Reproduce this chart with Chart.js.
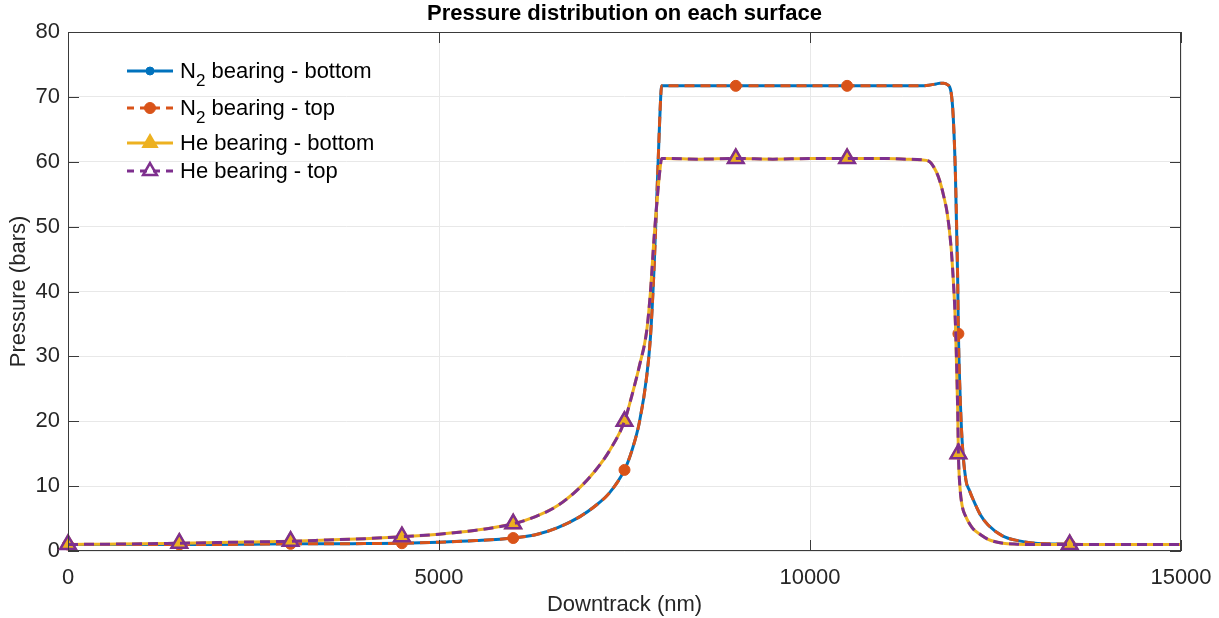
<!DOCTYPE html>
<html lang="en">
<head>
<meta charset="UTF-8">
<title>Pressure distribution on each surface</title>
<script src="https://cdn.jsdelivr.net/npm/chart.js"></script>
<style>
    html, body { margin: 0; padding: 0; background: #fff; }
</style>
</head>
<body>
<canvas id="grafico" width="1219" height="618"></canvas>
<script>
    // Downtrack positions (nm)
    const downtrack = [0, 500, 1000, 1500, 2000, 2500, 3000, 3500, 4000, 4500,
        5000, 5500, 6000, 6300, 6600, 6900, 7100, 7300, 7500, 7600,
        7700, 7800, 7850, 7900, 7950, 7980, 8000, 8050, 8500, 9000,
        9500, 10000, 10500, 11000, 11300, 11500, 11600, 11700, 11750, 11800,
        11850, 11900, 11930, 11960, 11990, 12000, 12020, 12050, 12100, 12150,
        12200, 12300, 12400, 12600, 12800, 13000, 13500, 14000, 14500, 15000];

    // Pressure (bars)
    const n2Bottom = [1.0, 1.0, 1.0, 1.0, 1.0, 1.05, 1.1, 1.1, 1.15, 1.2,
        1.35, 1.6, 2.0, 2.5, 3.6, 5.3, 6.9, 9.0, 12.5, 15.5,
        19.8, 27, 33, 44, 59, 68, 71.7, 71.7, 71.7, 71.7,
        71.7, 71.7, 71.7, 71.7, 71.7, 71.7, 71.8, 72.0, 72.1, 72.1,
        71.9, 70.8, 67, 58, 42, 33.5, 25, 17, 11, 9.3,
        7.9, 5.5, 4.0, 2.3, 1.6, 1.25, 1.05, 1.0, 1.0, 1.0];
    const n2Top = [1.0, 1.0, 1.0, 1.0, 1.0, 1.05, 1.1, 1.1, 1.15, 1.2,
        1.35, 1.6, 2.0, 2.5, 3.6, 5.3, 6.9, 9.0, 12.5, 15.5,
        19.8, 27, 33, 44, 59, 68, 71.7, 71.7, 71.7, 71.7,
        71.7, 71.7, 71.7, 71.7, 71.7, 71.7, 71.8, 72.0, 72.1, 72.1,
        71.9, 70.8, 67, 58, 42, 33.5, 25, 17, 11, 9.3,
        7.9, 5.5, 4.0, 2.3, 1.6, 1.25, 1.05, 1.0, 1.0, 1.0];
    const heBottom = [1.0, 1.05, 1.1, 1.2, 1.3, 1.4, 1.5, 1.7, 1.9, 2.2,
        2.6, 3.2, 4.2, 5.3, 7.0, 9.8, 12.3, 15.5, 20, 24,
        28.5, 34, 40, 48.5, 55.5, 59, 60.5, 60.5, 60.4, 60.5,
        60.4, 60.5, 60.5, 60.5, 60.4, 60.3, 60.1, 58.5, 57, 54.8,
        52, 47, 42, 35, 22, 15, 10, 7, 5.3, 4.2,
        3.4, 2.5, 1.8, 1.2, 1.05, 1.0, 1.0, 1.0, 1.0, 1.0];
    const heTop = [1.0, 1.05, 1.1, 1.2, 1.3, 1.4, 1.5, 1.7, 1.9, 2.2,
        2.6, 3.2, 4.2, 5.3, 7.0, 9.8, 12.3, 15.5, 20, 24,
        28.5, 34, 40, 48.5, 55.5, 59, 60.5, 60.5, 60.4, 60.5,
        60.4, 60.5, 60.5, 60.5, 60.4, 60.3, 60.1, 58.5, 57, 54.8,
        52, 47, 42, 35, 22, 15, 10, 7, 5.3, 4.2,
        3.4, 2.5, 1.8, 1.2, 1.05, 1.0, 1.0, 1.0, 1.0, 1.0];

    // Positions where markers are shown
    const markerX = [0, 1500, 3000, 4500, 6000, 7500, 9000, 10500, 12000, 13500];

    const legendLabels = ['N_2 bearing - bottom', 'N_2 bearing - top', 'He bearing - bottom', 'He bearing - top'];
    const chartTitle = 'Pressure distribution on each surface';

    const fuente = '"Liberation Sans", Arial, Helvetica, sans-serif';
    const toPoints = ys => downtrack.map((x, i) => ({ x: x, y: ys[i] }));
    const radioMarcador = r => ctx => markerX.includes(downtrack[ctx.dataIndex]) ? r : 0;

    const series = [
        { label: legendLabels[0], data: n2Bottom, color: '#0072BD', dash: [], style: 'circle', r: 4, fill: '#0072BD', bw: 1, order: 4 },
        { label: legendLabels[1], data: n2Top, color: '#D95319', dash: [10, 6], style: 'circle', r: 5.5, fill: '#D95319', bw: 1, order: 3 },
        { label: legendLabels[2], data: heBottom, color: '#EDB120', dash: [], style: 'triangle', r: 9, fill: '#EDB120', bw: 2, order: 2 },
        { label: legendLabels[3], data: heTop, color: '#7E2F8E', dash: [10, 6], style: 'triangle', r: 9, fill: 'rgba(0,0,0,0)', bw: 2.5, order: 1 }
    ];

    // Box with inward ticks and the title centred on the axes
    const cajaPlugin = {
        id: 'caja',
        afterDatasetsDraw(chart) {
            const { ctx, chartArea: a, scales: { x, y } } = chart;
            ctx.save();
            ctx.strokeStyle = '#3a3a3a';
            ctx.lineWidth = 1;
            ctx.setLineDash([]);
            ctx.strokeRect(a.left + 0.5, a.top + 0.5, a.right - a.left - 1, a.bottom - a.top - 1);
            ctx.beginPath();
            y.ticks.forEach(t => {
                const py = Math.round(y.getPixelForValue(t.value)) + 0.5;
                ctx.moveTo(a.left, py); ctx.lineTo(a.left + 11, py);
                ctx.moveTo(a.right, py); ctx.lineTo(a.right - 11, py);
            });
            x.ticks.forEach(t => {
                const px = Math.round(x.getPixelForValue(t.value)) + 0.5;
                ctx.moveTo(px, a.bottom); ctx.lineTo(px, a.bottom - 11);
                ctx.moveTo(px, a.top); ctx.lineTo(px, a.top + 11);
            });
            ctx.stroke();

            ctx.fillStyle = '#000';
            ctx.font = 'bold 22px ' + fuente;
            ctx.textAlign = 'center';
            ctx.textBaseline = 'middle';
            ctx.fillText(chartTitle, (a.left + a.right) / 2, 14);
            ctx.restore();
        }
    };

    // Legend drawn inside the plot (no box), with N2 subscript
    const leyendaPlugin = {
        id: 'leyenda',
        afterDraw(chart) {
            const ctx = chart.ctx;
            const baselines = [78, 115, 150, 178];
            ctx.save();
            series.forEach((s, i) => {
                const yl = baselines[i] - 7;
                ctx.strokeStyle = s.color;
                ctx.lineWidth = 3;
                ctx.setLineDash(s.dash.length ? [7, 6] : []);
                ctx.beginPath();
                ctx.moveTo(127, yl); ctx.lineTo(173, yl);
                ctx.stroke();
                ctx.setLineDash([]);
                ctx.fillStyle = s.fill;
                ctx.lineWidth = s.bw;
                Chart.helpers.drawPoint(ctx, { pointStyle: s.style, radius: s.style === 'triangle' ? 8 : s.r, rotation: 0, borderWidth: s.bw }, 150, yl);

                ctx.fillStyle = '#000';
                ctx.textBaseline = 'alphabetic';
                ctx.textAlign = 'left';
                ctx.font = '22px ' + fuente;
                let xt = 180;
                const partes = s.label.split('_');
                if (partes.length > 1) {
                    ctx.fillText(partes[0], xt, baselines[i]);
                    xt += ctx.measureText(partes[0]).width;
                    ctx.font = '17px ' + fuente;
                    ctx.fillText(partes[1][0], xt, baselines[i] + 8);
                    xt += ctx.measureText(partes[1][0]).width;
                    ctx.font = '22px ' + fuente;
                    ctx.fillText(partes[1].slice(1), xt, baselines[i]);
                } else {
                    ctx.fillText(s.label, xt, baselines[i]);
                }
            });
            ctx.restore();
        }
    };

    const ctx = document.getElementById('grafico').getContext('2d');
    const chart = new Chart(ctx, {
        type: 'line',
        data: {
            datasets: series.map(s => ({
                label: s.label,
                data: toPoints(s.data),
                borderColor: s.color,
                borderWidth: 3,
                borderDash: s.dash,
                cubicInterpolationMode: 'monotone',
                fill: false,
                clip: false,
                order: s.order,
                pointStyle: s.style,
                pointRadius: radioMarcador(s.r),
                pointBackgroundColor: s.fill,
                pointBorderColor: s.color,
                pointBorderWidth: s.bw,
                pointHoverRadius: 0
            }))
        },
        options: {
            responsive: false,
            animation: false,
            devicePixelRatio: 1,
            layout: { padding: { left: 0, right: 38, top: 32, bottom: 0 } },
            plugins: {
                legend: { display: false },
                tooltip: { enabled: false },
                title: { display: false }
            },
            scales: {
                x: {
                    type: 'linear',
                    min: 0, max: 15000,
                    ticks: {
                        stepSize: 5000, color: '#262626', font: { family: fuente, size: 22 }, padding: 14, maxRotation: 0,
                        callback: v => String(v)
                    },
                    grid: { color: '#e8e8e8', drawTicks: false },
                    border: { display: false },
                    title: { display: true, text: 'Downtrack (nm)', color: '#262626', font: { family: fuente, size: 22 }, padding: { top: 0, bottom: 0 } },
                    afterFit: s => { s.height = 67; s.paddingLeft = 0; s.paddingRight = 0; }
                },
                y: {
                    min: 0, max: 80,
                    ticks: { stepSize: 10, color: '#262626', font: { family: fuente, size: 22 }, padding: 8 },
                    grid: { color: '#e8e8e8', drawTicks: false },
                    border: { display: false },
                    title: { display: true, text: 'Pressure (bars)', color: '#262626', font: { family: fuente, size: 22 }, padding: { top: 6, bottom: 0 } },
                    afterFit: s => { s.width = 68; }
                }
            }
        },
        plugins: [cajaPlugin, leyendaPlugin]
    });
</script>
</body>
</html>
